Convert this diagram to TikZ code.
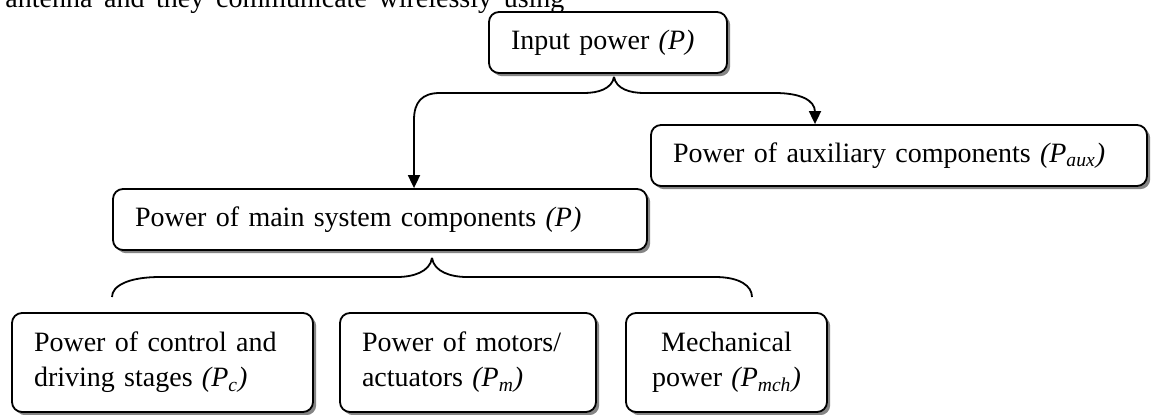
\documentclass[tikz,border=0pt]{standalone}
\usepackage{fontspec}
\setmainfont{Liberation Serif}
\usetikzlibrary{arrows.meta,shadows}
\begin{document}
\begin{tikzpicture}[x=0.5pt,y=-0.5pt,
  font=\fontsize{14}{17.5}\selectfont,
  box/.style={draw, line width=0.9pt, rounded corners=5pt, fill=white,
     drop shadow={shadow xshift=1.6pt, shadow yshift=-1.6pt, fill=black!60, opacity=0.8},
     inner xsep=11pt, inner ysep=0pt, align=left},
  conn/.style={draw, line width=0.9pt},
  arr/.style={-{Triangle[length=6.5pt,width=6pt]}}]
\useasboundingbox (0,0) rectangle (1151,414);
\begin{scope}
\clip (0,0) rectangle (1151,414);
\node[anchor=base west, inner sep=0pt] (frag) at (5,7) {\makebox[279.5pt][s]{antenna and they communicate wirelessly using}};
\end{scope}

\node[box, text width=97pt, minimum height=30.5pt] (inp) at (608,42.5) {Input power \textit{(P)}};
\node[box, text width=226pt, minimum height=30.5pt] (aux) at (899,155.5) {Power of auxiliary components \textit{(P\textsubscript{aux})}};
\node[box, text width=245pt, minimum height=30.5pt] (main) at (380,219.5) {Power of main system components \textit{(P)}};
\node[box, text width=128.5pt, minimum height=49.5pt] (pc) at (162.5,362.5) {Power of control and\\driving stages \textit{(P\textsubscript{c})}};
\node[box, text width=106pt, minimum height=49.5pt] (pm) at (468,362.5) {Power of motors/\\actuators \textit{(P\textsubscript{m})}};
\node[box, text width=78.5pt, minimum height=49.5pt, align=center] (pmch) at (726.5,362.5) {Mechanical\\power \textit{(P\textsubscript{mch})}};

\coordinate (j1) at ([xshift=3pt,yshift=-1.5pt]inp.south);
\draw[conn,arr] (j1) .. controls +(-2,12) and +(14,0) .. (584,93) -- (440,93) .. controls (422,93) and (414,102) .. (414,120) -- ([xshift=17pt]main.north);
\draw[conn,arr] (j1) .. controls +(2,12) and +(-14,0) .. (644,93) -- (775,93) .. controls (800,93) and (815,100) .. (815,112) -- ([xshift=-42pt]aux.north);

\coordinate (j2) at ([xshift=26pt,yshift=-3.5pt]main.south);
\coordinate (e1) at (112,297);
\coordinate (e3) at (752,297);
\draw[conn] (j2) .. controls +(-2,14) and +(16,0) .. (397,277) -- (160,277) .. controls (128,277) and (112,286) .. (e1);
\draw[conn] (j2) .. controls +(2,14) and +(-16,0) .. (467,277) -- (715,277) .. controls (740,277) and (752,286) .. (e3);
\end{tikzpicture}
\end{document}
